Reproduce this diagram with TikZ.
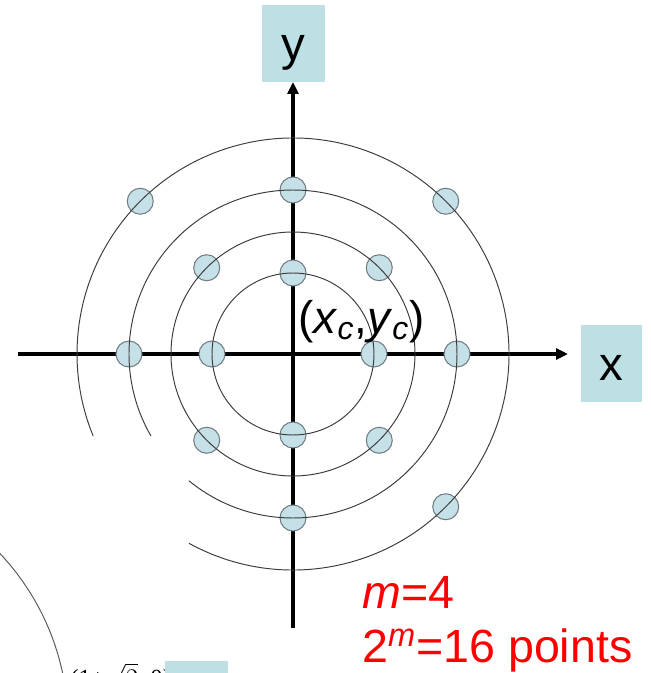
\documentclass[tikz,border=0pt]{standalone}
\usepackage{fontspec}
\setmainfont{Liberation Sans}
\newfontfamily\slideserif{Liberation Serif}
\usetikzlibrary{arrows.meta}
\definecolor{RgBox}{HTML}{BCE0E3}
\definecolor{RgDot}{HTML}{C6E0E8}
\definecolor{RgDotEdge}{HTML}{6F7D82}
\definecolor{RgRing}{HTML}{3C3C3C}
\definecolor{RgRed}{HTML}{FF0000}
\tikzset{
  rgAxis/.style={-{Triangle[length=2.4mm,width=2.2mm]}, draw=black, line width=2pt},
  rgRing/.style={draw=RgRing, line width=0.55pt},
  rgDot/.style={
    circle, draw=RgDotEdge, fill=RgDot, line width=0.6pt,
    minimum size=0.52cm, inner sep=0pt
  },
  rgBox/.style={
    rectangle, fill=RgBox, minimum width=1.26cm, minimum height=1.54cm,
    inner sep=0pt, text height=0.68cm, text depth=0pt,
    font=\fontsize{27}{32}\selectfont
  },
  rgNote/.style={text=RgRed, inner sep=0pt, font=\fontsize{26.5}{31}\selectfont}
}

\begin{document}
\begin{tikzpicture}[x=0.02cm, y=0.02cm]
  \useasboundingbox (-293,-319) rectangle (357,354);
  \clip (-293,-319) rectangle (357,354);

  \coordinate (c) at (0,0);
  \coordinate (xl) at (-275,0);
  \coordinate (xr) at (275,0);
  \coordinate (yb) at (0,-274);
  \coordinate (yt) at (0,272);

  % axes
  \draw[rgAxis] (xl) -- (xr);
  \draw[rgAxis] (yb) -- (yt);

  % points on the rings
  \foreach \a in {0,90,180,270} {
    \node[rgDot] (ra-\a) at (\a:81) {};
    \node[rgDot] (rc-\a) at (\a:164) {};
  }
  \foreach \a in {45,135,225,315} \node[rgDot] (rb-\a) at (\a:122) {};
  \foreach \a in {45,135,315} \node[rgDot] (rd-\a) at (\a:216) {};

  % rings
  \draw[rgRing] (c) circle[radius=81];
  \draw[rgRing] (c) circle[radius=122];
  \draw[rgRing] (c) ++(230.6:164) arc[start angle=230.6, end angle=570, radius=164];
  \draw[rgRing] (c) ++(241.2:216) arc[start angle=241.2, end angle=562.3, radius=216];

  % labels
  \node[rgBox] (ylab) at (0.5,310.5) {y};
  \node[rgBox, minimum width=1.22cm] (xlab) at (318.5,-9.5) {x};
  \node[anchor=base west, inner sep=0pt, font=\fontsize{26}{31}\selectfont] (ctr) at (5,21)
    {(\textit{x}\textsubscript{\textit{c}},\textit{y}\textsubscript{\textit{c}})};
  \node[rgNote, anchor=base west] (mval) at (69,-254) {\textit{m}=4};
  \node[rgNote, anchor=base west] (npts) at (69,-308) {2\textsuperscript{\textit{m}}=16 points};

  % cut-off part of the next figure
  \draw[rgRing, draw=black!65] (-475,-371) circle[radius=250];
  \node[anchor=north west, inner sep=0pt, font=\slideserif\fontsize{14}{17}\selectfont] (pt) at (-223,-309)
    {(1+$\sqrt{2}$, 0)};
  \node[rgBox, anchor=north west, minimum width=1.26cm] (cut) at (-128,-307) {};
\end{tikzpicture}
\end{document}
